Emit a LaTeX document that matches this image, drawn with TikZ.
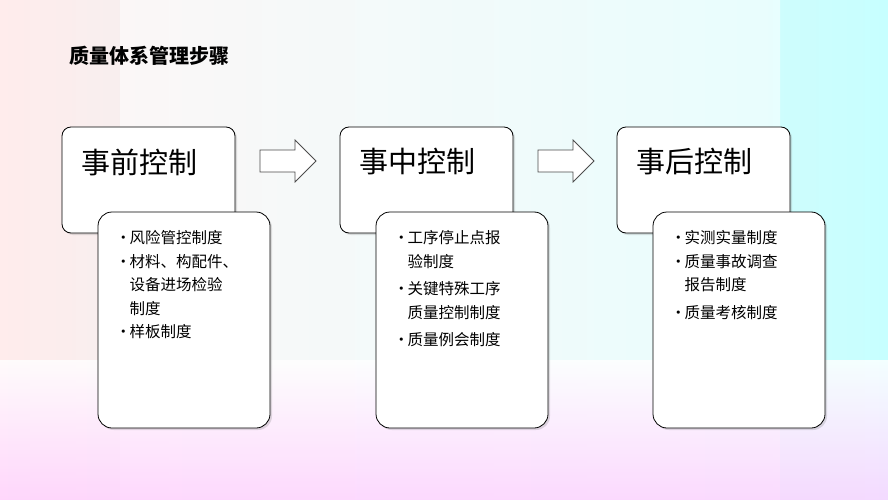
\documentclass[tikz,border=0pt]{standalone}
\usepackage{fontspec}
\newfontfamily\cjk{Noto Sans CJK SC}
\usetikzlibrary{shadows}
\newcommand{\myb}{\makebox[14pt][l]{\textbullet}}
\newcommand{\myn}{\makebox[14pt][l]{}}
\begin{document}
\begin{tikzpicture}[x=1pt,y=-1pt,
 head/.style={draw=black,line width=0.8pt,fill=white,rounded corners=9pt,drop shadow={opacity=0.25,shadow xshift=2pt,shadow yshift=-2pt}},
 body/.style={draw=black,line width=0.8pt,fill=white,rounded corners=14pt,drop shadow={opacity=0.25,shadow xshift=2pt,shadow yshift=-2pt}},
 htxt/.style={anchor=west,font=\cjk\fontsize{29}{32}\selectfont},
 ltxt/.style={anchor=north west,align=left,text width=150pt,font=\cjk\fontsize{15.5}{23.5}\selectfont},
 barrow/.style={draw=black!70,fill=white,line width=0.8pt}]
\useasboundingbox (0,0) rectangle (888,500);
\shade[left color=pink!30,right color=cyan!22] (0,0) rectangle (888,500);
\shade[top color=white,bottom color=white,middle color=white,opacity=0.55] (120,0) rectangle (780,500);
\shade[top color=white,bottom color=magenta!18,opacity=0.8] (0,360) rectangle (888,500);
\node[anchor=west,font=\cjk\bfseries\fontsize{20}{22}\selectfont] (title) at (66,56) {质量体系管理步骤};
\foreach \i/\x/\h/\l in {a/62/事前控制/{\myb 风险管控制度\\\myb 材料、构配件、\\\myn 设备进场检验\\\myn 制度\\\myb 样板制度},
 b/340/事中控制/{\myb 工序停止点报\\\myn 验制度\\[4pt]\myb 关键特殊工序\\\myn 质量控制制度\\[4pt]\myb 质量例会制度},
 c/617/事后控制/{\myb 实测实量制度\\\myb 质量事故调查\\\myn 报告制度\\[4pt]\myb 质量考核制度}}{
 \draw[head] (\x,127) rectangle ++(173,106);
 \node[htxt] (h\i) at (\x+16,162) {\h};
 \draw[body] (\x+36,212) rectangle ++(172,216);
 \node[ltxt] (l\i) at (\x+50,227) {\l};
}
\foreach \i/\x in {1/260,2/538}{
 \draw[barrow] (\x,150) -- ++(35,0) -- ++(0,-10) -- ++(21,21) -- ++(-21,21) -- ++(0,-10) -- ++(-35,0) -- cycle;
 \coordinate (ar\i) at (\x+28,161);
}
\end{tikzpicture}
\end{document}
